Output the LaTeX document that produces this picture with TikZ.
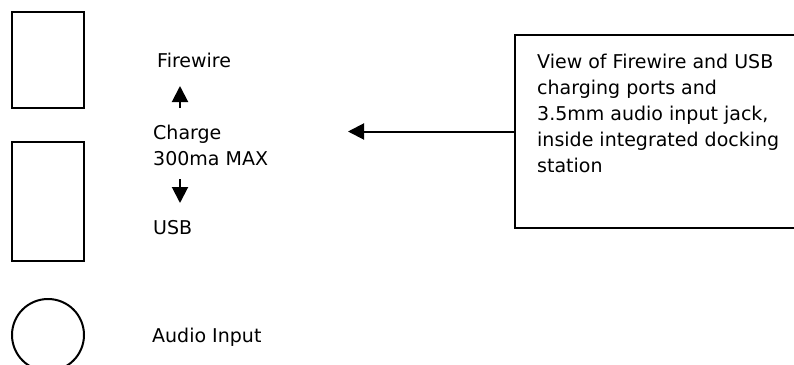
\documentclass[tikz,border=0pt]{standalone}
\usepackage{fontspec}
\setmainfont{DejaVu Sans}
\usetikzlibrary{arrows.meta}

\tikzset{
    port/.style={draw, line width=2pt, rectangle, inner sep=0pt},
    jack/.style={draw, line width=2pt, circle, inner sep=0pt, minimum size=72pt},
    label/.style={anchor=base west, inner sep=0pt, font=\fontsize{19}{26}\selectfont},
    notebox/.style={draw, line width=2pt, rectangle, inner sep=0pt,
        minimum width=305pt, minimum height=193pt},
    pointer/.style={line width=2pt, -{Triangle[length=16pt, width=16pt]}}
}

\begin{document}
\begin{tikzpicture}[x=1pt, y=-1pt]
        \clip (0,0) rectangle (794,364);

        %%%%%%%%%%%%%%%%%%%%%%%%%%%%%%%%%%%%%%%%%%%%
        % Ports
        %%%%%%%%%%%%%%%%%%%%%%%%%%%%%%%%%%%%%%%%%%%%

        % Drawing
        \node [port, minimum width=72pt, minimum height=96pt] (port-fw) at (48,60) {};
        \node [port, minimum width=72pt, minimum height=119pt] (port-usb) at (48,201.5) {};
        \node [jack] (port-audio) at (48,335) {};

        % Labeling
        \foreach \n/\x/\y/\l in {firewire/157/67/Firewire, usb/153/234/USB, audio/152/342/Audio Input}
            \node [label] (\n) at (\x,\y) {\l};
        \node [label, align=left] (charge) at (153,165) {Charge\\300ma MAX};

        %%%%%%%%%%%%%%%%%%%%%%%%%%%%%%%%%%%%%%%%%%%%
        % Charge arrows
        %%%%%%%%%%%%%%%%%%%%%%%%%%%%%%%%%%%%%%%%%%%%
        \coordinate (up-base) at (180,108);
        \coordinate (up-tip) at (180,86);
        \coordinate (down-base) at (180,179);
        \coordinate (down-tip) at (180,203);

        \draw [pointer] (up-base) -- (up-tip);
        \draw [pointer] (down-base) -- (down-tip);

        %%%%%%%%%%%%%%%%%%%%%%%%%%%%%%%%%%%%%%%%%%%%
        % Note
        %%%%%%%%%%%%%%%%%%%%%%%%%%%%%%%%%%%%%%%%%%%%
        \node [notebox] (view) at (667.5,131.5) {};
        \node [label, align=left] (view-text) at (537,172)
            {View of Firewire and USB\\charging ports and\\3.5mm audio input jack,\\inside integrated docking\\station};

        \coordinate (view-tip) at (348,131.5);
        \draw [pointer] (view.west) -- (view-tip);
\end{tikzpicture}
\end{document}
